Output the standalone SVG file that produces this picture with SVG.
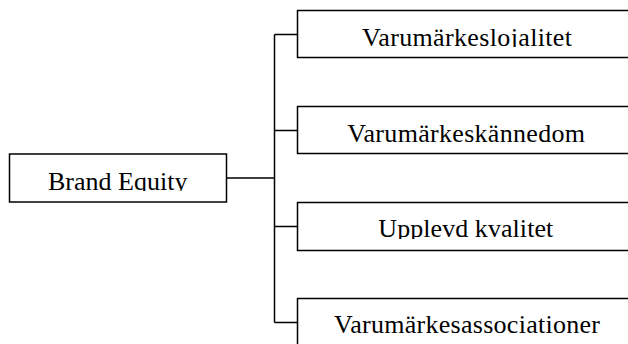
<svg xmlns="http://www.w3.org/2000/svg" width="628" height="344" viewBox="0 0 628 344">
<style>
.box{fill:#fff;stroke:#000;stroke-width:1.5}
.lbl{font-family:'Liberation Serif','DejaVu Serif',serif;font-size:26px;fill:#000}
.con{fill:none;stroke:#000;stroke-width:1.5}
</style>
<defs>
<clipPath id="c0"><rect x="9.5" y="154" width="217" height="37"/></clipPath>
<clipPath id="c1"><rect x="297.5" y="10.5" width="340" height="36.5"/></clipPath>
<clipPath id="c2"><rect x="297.5" y="106.5" width="340" height="36.5"/></clipPath>
<clipPath id="c3"><rect x="297.5" y="202.5" width="340" height="36.5"/></clipPath>
<clipPath id="c4"><rect x="297.5" y="298.5" width="340" height="36.5"/></clipPath>
</defs>
<g id="connectors">
<path class="con" d="M226.5 178H274.5M274.5 34.5V322.5M274.5 34.5H297.5M274.5 130.5H297.5M274.5 226.5H297.5M274.5 322.5H297.5"/>
</g>
<g id="brand-equity">
<rect class="box" x="9.5" y="154" width="217" height="48"/>
<text class="lbl" font-family="Liberation Serif, serif" x="48" y="189.7" textLength="139.5" lengthAdjust="spacing" clip-path="url(#c0)">Brand Equity</text>
</g>
<g id="lojalitet">
<rect class="box" x="297.5" y="10.5" width="340" height="47"/>
<text class="lbl" font-family="Liberation Serif, serif" x="362" y="45.5" textLength="210" lengthAdjust="spacing" clip-path="url(#c1)">Varumärkeslojalitet</text>
</g>
<g id="kannedom">
<rect class="box" x="297.5" y="106.5" width="340" height="47"/>
<text class="lbl" font-family="Liberation Serif, serif" x="347.3" y="141.7" textLength="237.7" lengthAdjust="spacing" clip-path="url(#c2)">Varumärkeskännedom</text>
</g>
<g id="kvalitet">
<rect class="box" x="297.5" y="202.5" width="340" height="48"/>
<text class="lbl" font-family="Liberation Serif, serif" x="378.3" y="237.2" textLength="175" lengthAdjust="spacing" clip-path="url(#c3)">Upplevd kvalitet</text>
</g>
<g id="associationer">
<rect class="box" x="297.5" y="298.5" width="340" height="48"/>
<text class="lbl" font-family="Liberation Serif, serif" x="334" y="333" textLength="266" lengthAdjust="spacing" clip-path="url(#c4)">Varumärkesassociationer</text>
</g>
</svg>
